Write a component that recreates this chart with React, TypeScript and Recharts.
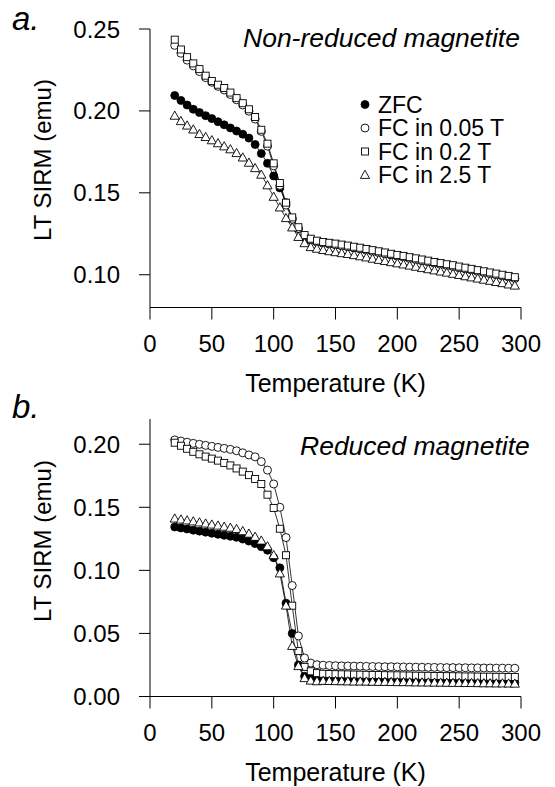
import { LineChart, Line, XAxis, YAxis } from 'recharts';

const FONT = '"Liberation Sans", Arial, Helvetica, sans-serif';

// temperature steps (K)
const temps = [
  20, 25, 30, 35, 40, 45, 50, 55, 60, 65, 70, 75,
  80, 85, 90, 95, 100, 105, 110, 115, 120, 125, 130, 135,
  140, 145, 150, 155, 160, 165, 170, 175, 180, 185, 190, 195,
  200, 205, 210, 215, 220, 225, 230, 235, 240, 245, 250, 255,
  260, 265, 270, 275, 280, 285, 290, 295,
];

// a. non-reduced magnetite (emu)
const topZfc = [
  0.2094, 0.2064, 0.2036, 0.201, 0.199, 0.1971, 0.1953, 0.1934, 0.1915, 0.1896, 0.1877, 0.1858,
  0.1834, 0.1795, 0.174, 0.168, 0.1603, 0.153, 0.144, 0.1345, 0.1282, 0.1234, 0.1211, 0.12,
  0.1194, 0.1188, 0.1183, 0.1177, 0.1171, 0.1164, 0.1158, 0.115, 0.1143, 0.1136, 0.1129, 0.1121,
  0.1114, 0.1108, 0.11, 0.1093, 0.1086, 0.1079, 0.1071, 0.1064, 0.1057, 0.1051, 0.1043, 0.1036,
  0.1029, 0.1021, 0.1014, 0.1007, 0.1, 0.0993, 0.0986, 0.0978,
];
const topFc005 = [
  0.24, 0.2352, 0.231, 0.2275, 0.224, 0.2203, 0.2175, 0.215, 0.2128, 0.21, 0.2068, 0.2036,
  0.1998, 0.195, 0.1875, 0.1785, 0.1665, 0.1545, 0.1425, 0.1338, 0.1282, 0.1236, 0.1213, 0.1201,
  0.1192, 0.1187, 0.1182, 0.1176, 0.117, 0.1163, 0.1157, 0.1149, 0.1142, 0.1135, 0.1128, 0.112,
  0.1113, 0.1107, 0.1099, 0.1092, 0.1085, 0.1078, 0.107, 0.1063, 0.1056, 0.105, 0.1042, 0.1035,
  0.1028, 0.102, 0.1013, 0.1006, 0.0999, 0.0992, 0.0985, 0.0977,
];
const topFc02 = [
  0.2435, 0.2375, 0.2328, 0.229, 0.2255, 0.2215, 0.2183, 0.216, 0.214, 0.2112, 0.2078, 0.2047,
  0.201, 0.1963, 0.1885, 0.18, 0.168, 0.156, 0.144, 0.135, 0.129, 0.1242, 0.122, 0.1208,
  0.12, 0.1195, 0.119, 0.1184, 0.1178, 0.1171, 0.1165, 0.1157, 0.115, 0.1143, 0.1136, 0.1128,
  0.1121, 0.1115, 0.1107, 0.11, 0.1093, 0.1086, 0.1078, 0.1071, 0.1064, 0.1058, 0.105, 0.1043,
  0.1036, 0.1028, 0.1021, 0.1014, 0.1007, 0.1, 0.0993, 0.0985,
];
const topFc25 = [
  0.197, 0.1937, 0.191, 0.1886, 0.1858, 0.184, 0.182, 0.1802, 0.1783, 0.1765, 0.1742, 0.1715,
  0.1683, 0.165, 0.161, 0.1545, 0.1475, 0.141, 0.1345, 0.1288, 0.123, 0.1192, 0.1168, 0.1158,
  0.115, 0.1143, 0.1137, 0.1131, 0.1126, 0.1119, 0.1112, 0.1105, 0.1097, 0.109, 0.1083, 0.1076,
  0.1069, 0.1062, 0.1055, 0.1048, 0.104, 0.1033, 0.1026, 0.1019, 0.1012, 0.1005, 0.0998, 0.099,
  0.0983, 0.0976, 0.0969, 0.0962, 0.0955, 0.0948, 0.094, 0.0933,
];

// b. reduced magnetite (emu)
const botZfc = [
  0.1344, 0.1336, 0.1328, 0.1319, 0.1311, 0.1303, 0.1294, 0.1286, 0.1278, 0.127, 0.1262, 0.1248,
  0.1232, 0.1212, 0.1188, 0.116, 0.11, 0.102, 0.074, 0.05, 0.025, 0.016, 0.014, 0.0132,
  0.013, 0.0129, 0.0128, 0.0127, 0.0126, 0.0126, 0.0125, 0.0124, 0.0123, 0.0123, 0.0122, 0.0121,
  0.0121, 0.012, 0.0119, 0.0119, 0.0118, 0.0118, 0.0117, 0.0116, 0.0116, 0.0115, 0.0115, 0.0114,
  0.0114, 0.0113, 0.0113, 0.0112, 0.0112, 0.0111, 0.0111, 0.011,
];
const botFc005 = [
  0.2034, 0.2025, 0.2016, 0.2007, 0.1999, 0.1991, 0.1983, 0.1975, 0.1967, 0.1959, 0.1948, 0.1932,
  0.1915, 0.19, 0.1862, 0.1795, 0.1685, 0.15, 0.126, 0.088, 0.048, 0.0305, 0.0265, 0.0252,
  0.0248, 0.0246, 0.0244, 0.0243, 0.0242, 0.0241, 0.024, 0.0239, 0.0238, 0.0237, 0.0236, 0.0236,
  0.0235, 0.0234, 0.0233, 0.0233, 0.0232, 0.0231, 0.0231, 0.023, 0.0229, 0.0229, 0.0228, 0.0228,
  0.0227, 0.0227, 0.0226, 0.0226, 0.0225, 0.0225, 0.0224, 0.0224,
];
const botFc02 = [
  0.2012, 0.1988, 0.1964, 0.194, 0.192, 0.1902, 0.1886, 0.187, 0.1852, 0.1832, 0.1808, 0.1783,
  0.1755, 0.1725, 0.1685, 0.16, 0.1495, 0.133, 0.112, 0.072, 0.036, 0.0235, 0.02, 0.0185,
  0.018, 0.0178, 0.0177, 0.0176, 0.0175, 0.0174, 0.0173, 0.0172, 0.0171, 0.017, 0.0169, 0.0168,
  0.0168, 0.0167, 0.0166, 0.0165, 0.0164, 0.0164, 0.0163, 0.0162, 0.0161, 0.0161, 0.016, 0.0159,
  0.0159, 0.0158, 0.0157, 0.0157, 0.0156, 0.0156, 0.0155, 0.0155,
];
const botFc25 = [
  0.141, 0.1402, 0.1395, 0.1387, 0.1379, 0.137, 0.1362, 0.1354, 0.1345, 0.1337, 0.1327, 0.131,
  0.129, 0.1265, 0.1235, 0.119, 0.112, 0.0975, 0.072, 0.04, 0.024, 0.0145, 0.0125, 0.012,
  0.0123, 0.0122, 0.0121, 0.012, 0.0119, 0.0118, 0.0118, 0.0117, 0.0116, 0.0115, 0.0115, 0.0114,
  0.0113, 0.0113, 0.0112, 0.0111, 0.0111, 0.011, 0.0109, 0.0109, 0.0108, 0.0107, 0.0107, 0.0106,
  0.0106, 0.0105, 0.0104, 0.0104, 0.0103, 0.0103, 0.0102, 0.0101,
];

const xTicks = [0, 50, 100, 150, 200, 250, 300];
const topTicks = [0.1, 0.15, 0.2, 0.25];
const botTicks = [0, 0.05, 0.1, 0.15, 0.2];

const seriesNames = ['ZFC', 'FC in 0.05 T', 'FC in 0.2 T', 'FC in 2.5 T'];
const seriesKeys = ['zfc', 'fc005', 'fc02', 'fc25'];

function marker(kind: string, cx: number, cy: number, key?: string) {
  if (kind === 'zfc')
    return <circle key={key} cx={cx} cy={cy} r={4} fill="#000" stroke="#000" strokeWidth={0.8} />;
  if (kind === 'fc005')
    return <circle key={key} cx={cx} cy={cy} r={4} fill="#fff" stroke="#000" strokeWidth={0.9} />;
  if (kind === 'fc02')
    return (
      <rect key={key} x={cx - 3.5} y={cy - 3.5} width={7} height={7} fill="#fff" stroke="#000" strokeWidth={0.9} />
    );
  return (
    <polygon
      key={key}
      points={`${cx},${cy - 4.8} ${cx + 4.6},${cy + 3.4} ${cx - 4.6},${cy + 3.4}`}
      fill="#fff"
      stroke="#000"
      strokeWidth={0.9}
    />
  );
}

const dotFor = (kind: string) => (p: any) => {
  const key = `${kind}-${p.index}`;
  if (p.cx == null || p.cy == null) return <g key={key} />;
  return marker(kind, p.cx, p.cy, key);
};

function Panel({
  series,
  domain,
  ticks,
  height,
  marginTop,
  marginBottom,
}: {
  series: number[][];
  domain: [number, number];
  ticks: number[];
  height: number;
  marginTop: number;
  marginBottom: number;
}) {
  const rows = temps.map((t, i) => ({
    T: t,
    zfc: series[0][i],
    fc005: series[1][i],
    fc02: series[2][i],
    fc25: series[3][i],
  }));
  const tickStyle = { fill: '#000', fontSize: 24, fontFamily: FONT };
  return (
    <LineChart
      width={555}
      height={height}
      data={rows}
      margin={{ top: marginTop, right: 34, bottom: marginBottom, left: 70 }}
    >
      <XAxis
        type="number"
        dataKey="T"
        domain={[0, 300]}
        ticks={xTicks}
        height={40}
        tickSize={12}
        tickMargin={15}
        tick={tickStyle}
        stroke="#000"
        axisLine={{ stroke: '#000' }}
        tickLine={{ stroke: '#000' }}
      />
      <YAxis
        type="number"
        domain={domain}
        ticks={ticks}
        width={80}
        tickSize={11}
        tickMargin={19}
        tick={tickStyle}
        tickFormatter={(v: number) => v.toFixed(2)}
        allowDataOverflow
        axisLine={{ stroke: '#000' }}
        tickLine={{ stroke: '#000' }}
      />
      {seriesKeys.map((k) => (
        <Line
          key={k}
          type="linear"
          dataKey={k}
          stroke="#000"
          strokeWidth={0.8}
          dot={dotFor(k)}
          activeDot={false}
          isAnimationActive={false}
        />
      ))}
    </LineChart>
  );
}

export default function App() {
  const legendRows = [104.5, 128, 151.5, 175];
  return (
    <div style={{ position: 'absolute', left: 0, top: 0, width: 555, height: 787, background: '#fff' }}>
      <div style={{ position: 'absolute', left: 0, top: 0 }}>
        <Panel
          series={[topZfc, topFc005, topFc02, topFc25]}
          domain={[0.08, 0.25]}
          ticks={topTicks}
          height={400}
          marginTop={29}
          marginBottom={52.5}
        />
      </div>
      <div style={{ position: 'absolute', left: 0, top: 400 }}>
        <Panel
          series={[botZfc, botFc005, botFc02, botFc25]}
          domain={[0, 0.22]}
          ticks={botTicks}
          height={387}
          marginTop={19}
          marginBottom={50.5}
        />
      </div>
      <svg
        width={555}
        height={787}
        style={{ position: 'absolute', left: 0, top: 0, pointerEvents: 'none' }}
        fontFamily={FONT}
      >
        <text x={12} y={30} fontSize={33} fontStyle="italic">a.</text>
        <text x={12} y={418} fontSize={33} fontStyle="italic">b.</text>
        <text x={243} y={47} fontSize={26.5} fontStyle="italic">Non-reduced magnetite</text>
        <text x={300} y={455} fontSize={26.5} fontStyle="italic">Reduced magnetite</text>
        <text x={335.5} y={392} fontSize={25} textAnchor="middle">Temperature (K)</text>
        <text x={335.5} y={781} fontSize={25} textAnchor="middle">Temperature (K)</text>
        <text transform="translate(51,160) rotate(-90)" fontSize={24} textAnchor="middle">LT SIRM (emu)</text>
        <text transform="translate(51,541) rotate(-90)" fontSize={24} textAnchor="middle">LT SIRM (emu)</text>
        {seriesKeys.map((k, i) => (
          <g key={k}>
            {marker(k, 365, legendRows[i])}
            <text x={378} y={legendRows[i] + 8} fontSize={23}>{seriesNames[i]}</text>
          </g>
        ))}
      </svg>
    </div>
  );
}
